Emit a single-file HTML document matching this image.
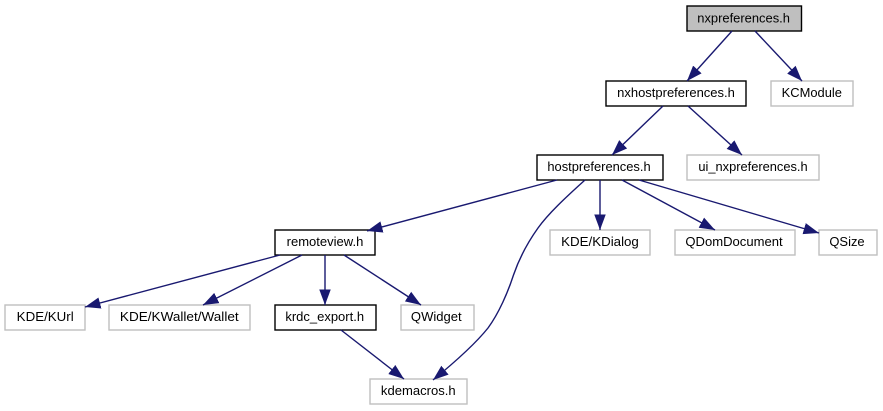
<!DOCTYPE html>
<html>
<head>
<meta charset="utf-8">
<style>
html,body{margin:0;padding:0;background:#fff;width:883px;height:411px;overflow:hidden}
svg{display:block;filter:blur(0.3px)}
text{font-family:"Liberation Sans",sans-serif;font-size:13px;fill:#000;text-anchor:middle}
rect{stroke-width:1.4}
.k{fill:#fff;stroke:#000}
.g{fill:#fff;stroke:#bfbfbf}
path.e{fill:none;stroke:#191970;stroke-width:1.4;marker-end:url(#a)}
</style>
</head>
<body>
<svg width="883" height="411" viewBox="0 0 883 411" xmlns="http://www.w3.org/2000/svg">
<defs>
<marker id="a" markerUnits="userSpaceOnUse" markerWidth="18" markerHeight="14" refX="15.500" refY="6" orient="auto">
<path d="M0,0.250 L15.500,6 L0,11.750 Z" fill="#191970"/>
</marker>
</defs>
<rect x="687" y="6" width="114.500" height="25" fill="#bfbfbf" stroke="#000"/>
<text x="743.600" y="22.500" textLength="92.700" lengthAdjust="spacingAndGlyphs">nxpreferences.h</text>
<rect class="k" x="606" y="81" width="140" height="25"/>
<text x="676" y="97" textLength="117.700" lengthAdjust="spacingAndGlyphs">nxhostpreferences.h</text>
<rect class="g" x="771" y="81" width="82" height="25"/>
<text x="811.800" y="97" textLength="60.300" lengthAdjust="spacingAndGlyphs">KCModule</text>
<rect class="k" x="537" y="155" width="126" height="25"/>
<text x="599" y="171" textLength="103.300" lengthAdjust="spacingAndGlyphs">hostpreferences.h</text>
<rect class="g" x="687" y="155" width="132" height="25"/>
<text x="753" y="171" textLength="109.300" lengthAdjust="spacingAndGlyphs">ui_nxpreferences.h</text>
<rect class="k" x="275" y="230" width="100" height="25"/>
<text x="325" y="246" textLength="76.700" lengthAdjust="spacingAndGlyphs">remoteview.h</text>
<rect class="g" x="550" y="230" width="100" height="25"/>
<text x="600" y="246" textLength="77.700" lengthAdjust="spacingAndGlyphs">KDE/KDialog</text>
<rect class="g" x="675" y="230" width="120" height="25"/>
<text x="734" y="246" textLength="97.300" lengthAdjust="spacingAndGlyphs">QDomDocument</text>
<rect class="g" x="819" y="230" width="58" height="25"/>
<text x="847" y="246" textLength="35.300" lengthAdjust="spacingAndGlyphs">QSize</text>
<rect class="g" x="5" y="305" width="80" height="25"/>
<text x="45.200" y="321" textLength="57" lengthAdjust="spacingAndGlyphs">KDE/KUrl</text>
<rect class="g" x="109" y="305" width="141" height="25"/>
<text x="179.300" y="321" textLength="118.700" lengthAdjust="spacingAndGlyphs">KDE/KWallet/Wallet</text>
<rect class="k" x="275" y="305" width="101" height="25"/>
<text x="324.700" y="321" textLength="78.700" lengthAdjust="spacingAndGlyphs">krdc_export.h</text>
<rect class="g" x="401" y="305" width="73" height="25"/>
<text x="436.300" y="321" textLength="50.700" lengthAdjust="spacingAndGlyphs">QWidget</text>
<rect class="g" x="370" y="379" width="97" height="25"/>
<text x="418.300" y="395" textLength="74.700" lengthAdjust="spacingAndGlyphs">kdemacros.h</text>
<path class="e" d="M732,31 L687,81"/>
<path class="e" d="M755,31 L802,81"/>
<path class="e" d="M663,106 L612,155"/>
<path class="e" d="M688,106 L742,155"/>
<path class="e" d="M557,180 L367,231"/>
<path class="e" d="M585,180 C565,198 548,214 538,228 C528,242 519,259 513.500,275 C508,292 499,313 488,328 C476,343 455,362 433,380"/>
<path class="e" d="M600,180 L600,230"/>
<path class="e" d="M622,180 L715,230"/>
<path class="e" d="M639,180 L819,233"/>
<path class="e" d="M280,255 L85,307"/>
<path class="e" d="M302,255 L203,305"/>
<path class="e" d="M325,255 L325,305"/>
<path class="e" d="M344,255 L421,305"/>
<path class="e" d="M341,330 L404,379"/>
</svg>
</body>
</html>
